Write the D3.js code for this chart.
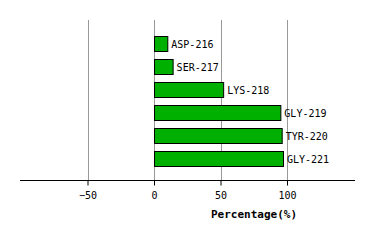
<!DOCTYPE html>
<html>
<head>
<meta charset="utf-8">
<script src="https://d3js.org/d3.v7.min.js"></script>
<style>
body { margin: 0; background: #fff; }
svg { display: block; font-family: "DejaVu Sans Mono", monospace; }
</style>
</head>
<body>
<svg width="374" height="240"></svg>
<script>
'use strict'

let residues = ['ASP-216', 'SER-217', 'LYS-218', 'GLY-219', 'TYR-220', 'GLY-221'],
	percents = [10, 14, 52, 95, 96, 97],
	ticks = [-50, 0, 50, 100]

let x = d3.scaleLinear().domain([-100, 150]).range([21, 353.5]),
	y = d3.scaleBand().domain(residues).range([32.5, 169.5]).paddingInner(0.34).paddingOuter(0.17),
	axis_y = 180

let svg = d3.select('svg')

// grid
svg.append('g').selectAll('line').data(ticks).join('line')
	.attr('x1', d => Math.round(x(d)) + 0.5).attr('x2', d => Math.round(x(d)) + 0.5)
	.attr('y1', 20).attr('y2', axis_y)
	.attr('stroke', '#999').attr('stroke-width', 1)

// bars
svg.append('g').selectAll('rect').data(residues).join('rect')
	.attr('x', x(0) + 0.5).attr('y', d => Math.round(y(d)) + 0.5)
	.attr('width', (d, i) => x(percents[i]) - x(0))
	.attr('height', 15)
	.attr('fill', '#00b000').attr('stroke', '#000').attr('stroke-width', 1)

svg.append('g').selectAll('text').data(residues).join('text')
	.attr('x', (d, i) => x(percents[i]) + 4).attr('y', d => Math.round(y(d)) + 12)
	.attr('font-size', 10).attr('fill', '#000').text(d => d)

// axis
svg.append('g').attr('transform', `translate(0 ${axis_y + 0.5})`)
	.call(d3.axisBottom(x).tickValues(ticks).tickSize(5).tickSizeOuter(0).tickFormat(d => d < 0 ? '\u2212' + (-d) : d))
	.call(s => {
		s.select('.domain').attr('d', `M20,0H355`).attr('stroke', '#000')
		s.selectAll('.tick line').attr('stroke', '#000')
		s.selectAll('.tick text').attr('font-family', '"DejaVu Sans Mono", monospace')
			.attr('font-size', 10).attr('dy', 0).attr('y', 18).attr('fill', '#000') })

svg.append('text')
	.attr('x', 254).attr('y', 218).attr('text-anchor', 'middle')
	.attr('font-size', 11).attr('font-weight', 'bold').text('Percentage(%)')
</script>
</body>
</html>
